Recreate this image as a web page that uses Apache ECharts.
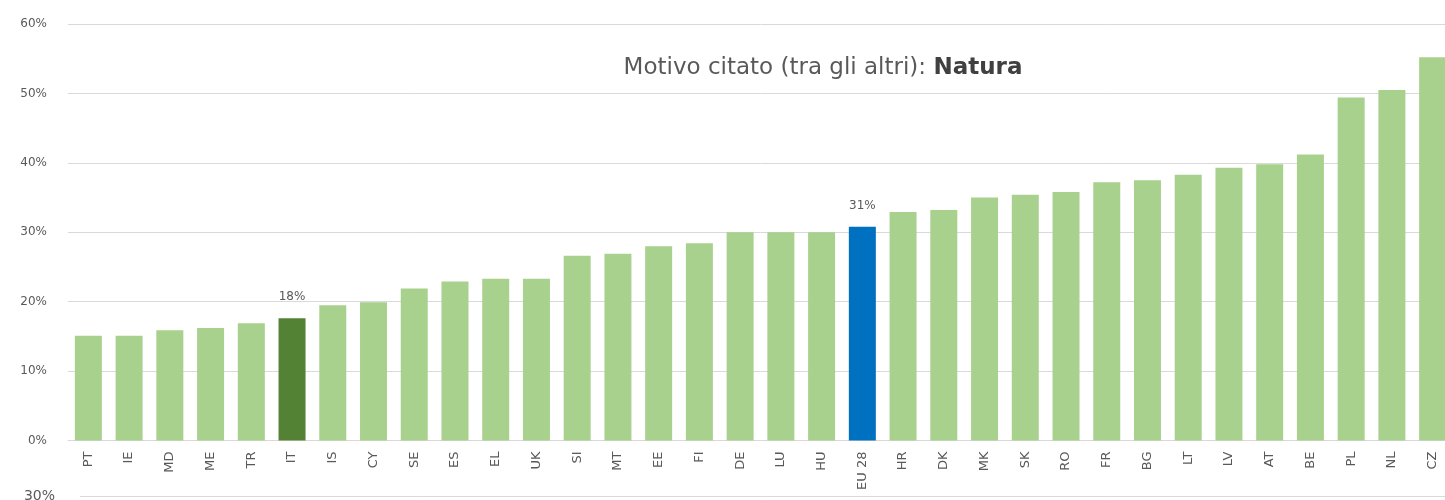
<!DOCTYPE html>
<html>
<head>
<meta charset="utf-8">
<script src="https://cdn.jsdelivr.net/npm/echarts@6/dist/echarts.min.js"></script>
<style>
html,body{margin:0;padding:0;background:#fff;overflow:hidden;}
#chart{width:1453px;height:500px;}
</style>
</head>
<body>
<div id="chart"></div>
<script>
const categories = ['PT','IE','MD','ME','TR','IT','IS','CY','SE','ES','EL','UK','SI','MT','EE','FI','DE','LU','HU','EU 28','HR','DK','MK','SK','RO','FR','BG','LT','LV','AT','BE','PL','NL','CZ'];
const values = [15.1,15.1,15.9,16.2,16.9,17.6,19.5,19.9,21.9,22.9,23.3,23.3,26.6,26.9,28.0,28.4,30.0,30.0,30.0,30.8,32.9,33.2,35.0,35.4,35.8,37.2,37.5,38.3,39.3,39.8,41.2,49.4,50.5,55.2];
const highlightIT = 'IT';
const highlightEU = 'EU 28';
const labelledBars = {'IT':'18%','EU 28':'31%'};
const yTicks = [0,10,20,30,40,50,60];
const titleMain = 'Motivo citato (tra gli altri): ';
const titleBold = 'Natura';

const colLight = '#A9D18E', colDark = '#548235', colBlue = '#0070C0';
const txt = '#595959', grid = '#D9D9D9';
const font = 'DejaVu Sans';

const data = categories.map((c,i)=>({
  value: values[i],
  itemStyle:{color: c===highlightIT ? colDark : (c===highlightEU ? colBlue : colLight)},
  label: labelledBars[c] ? {show:true, position:'top', distance:15, formatter: labelledBars[c], color:txt, fontSize:12, fontFamily:font} : {show:false}
}));

const chart = echarts.init(document.getElementById('chart'), null, {renderer:'canvas'});
chart.setOption({
  animation:false,
  backgroundColor:'#fff',
  title:{
    text:'{n|'+titleMain+'}{b|'+titleBold+'}',
    left:818, top:52, textAlign:'center',
    textStyle:{fontWeight:'normal', rich:{
      n:{fontSize:23, color:txt, fontWeight:'normal', fontFamily:font},
      b:{fontSize:23, color:'#404040', fontWeight:'bold', fontFamily:font}
    }}
  },
  grid:[
    {left:68, top:24, right:0, bottom:59.5, containLabel:false},
    {left:80, top:496, right:0, height:200, containLabel:false}
  ],
  xAxis:[
    {type:'category', data:categories, gridIndex:0,
     axisLine:{show:true, lineStyle:{color:grid, width:1}},
     axisTick:{show:false},
     axisLabel:{rotate:90, margin:11, color:txt, fontSize:13, fontFamily:font, interval:0}},
    {type:'category', data:[''], gridIndex:1, show:false}
  ],
  yAxis:[
    {type:'value', gridIndex:0, min:yTicks[0], max:yTicks[yTicks.length-1], interval:10,
     axisLine:{show:false}, axisTick:{show:false},
     splitLine:{show:true, lineStyle:{color:grid, width:1}},
     axisLabel:{formatter:'{value}%', margin:21, color:txt, fontSize:12, fontFamily:font}},
    {type:'value', gridIndex:1, min:0, max:30, interval:30,
     axisLine:{show:false}, axisTick:{show:false},
     splitLine:{show:true, lineStyle:{color:grid, width:1}},
     axisLabel:{formatter:'{value}%', margin:25, color:txt, fontSize:14, fontFamily:font}}
  ],
  series:[{
    type:'bar', xAxisIndex:0, yAxisIndex:0,
    data:data, barWidth:27
  }]
});
</script>
</body>
</html>
